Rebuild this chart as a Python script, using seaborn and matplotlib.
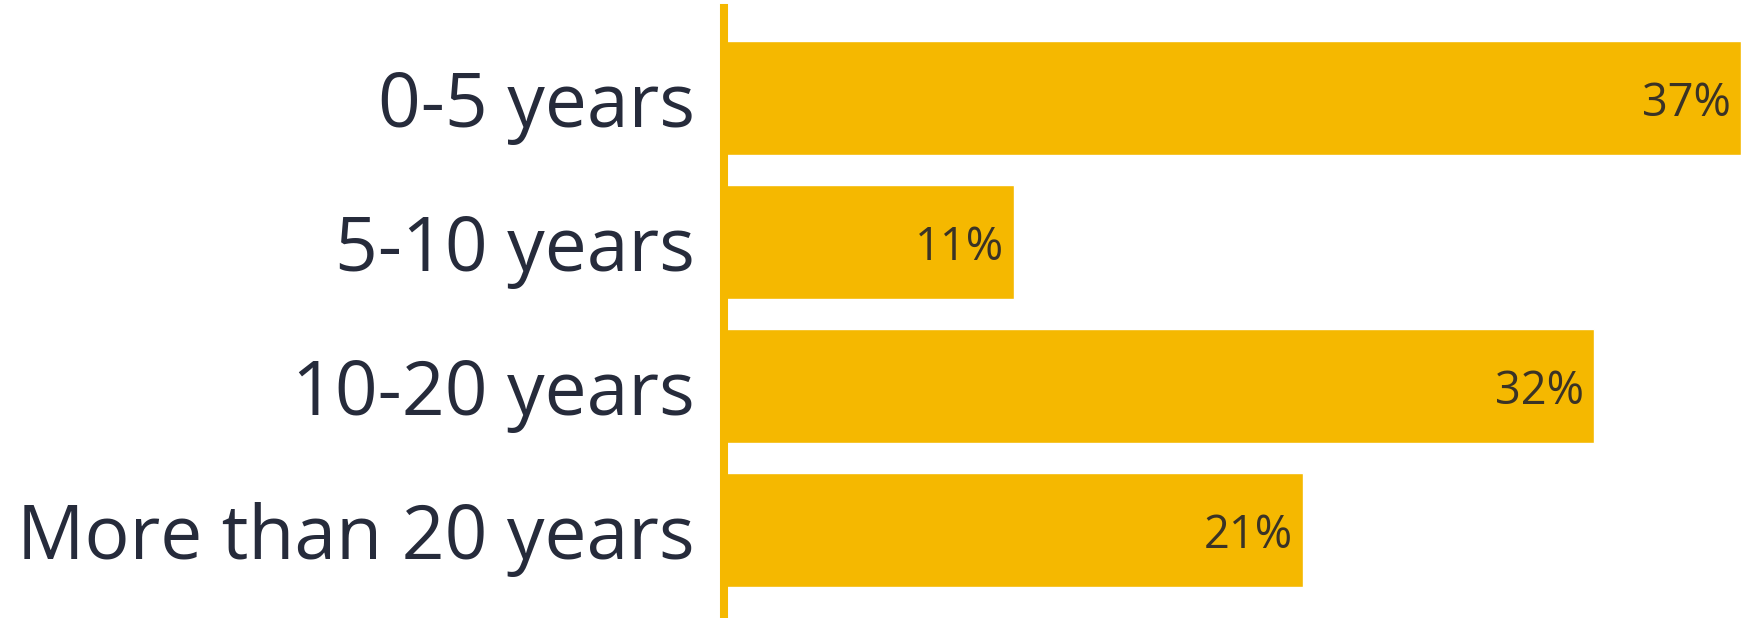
import matplotlib
matplotlib.use("Agg")
import matplotlib.pyplot as plt
import seaborn as sns
import pandas as pd

categories = ["0-5 years", "5-10 years", "10-20 years", "More than 20 years"]
values = [37, 10.55, 31.65, 21.06]
value_labels = ["37%", "11%", "32%", "21%"]

BAR = "#F5B800"
TEXT = "#262B3B"
VAL = "#3A3326"

sns.set_theme(style="white")
plt.rcParams['font.family'] = ['Open Sans', 'DejaVu Sans']

df = pd.DataFrame({"cat": categories, "val": values})

fig = plt.figure(figsize=(17.41, 6.18), dpi=100)
ax = fig.add_axes([724/1741, 0.0, 1 - 724/1741, 1 - 8/618])
sns.barplot(data=df, x="val", y="cat", orient="h", color=BAR, saturation=1,
            width=0.79, ax=ax)

ax.set_xlim(0, 37)
ax.set_ylim(3.611, -0.625)
ax.set_xlabel("")
ax.set_ylabel("")
ax.set_xticks([])
for s in ["top", "right", "bottom"]:
    ax.spines[s].set_visible(False)
ax.spines["left"].set_color(BAR)
ax.spines["left"].set_linewidth(5.8)
ax.tick_params(axis="y", length=0, pad=21, labelsize=54, labelcolor=TEXT)

for i, (v, lab) in enumerate(zip(values, value_labels)):
    ax.annotate(lab, xy=(v, i), xytext=(-7.5, -4), textcoords="offset points",
                ha="right", va="center", fontsize=32.5, color=VAL)

fig.savefig("out.png", dpi=100, facecolor="white")
